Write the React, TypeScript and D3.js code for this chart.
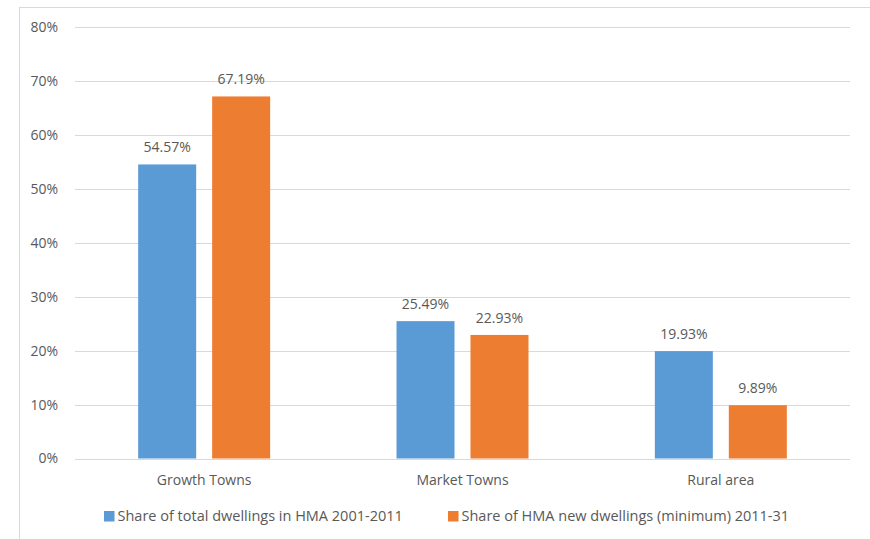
import React from 'react';
import * as d3 from 'd3';

// chart data
const categories = ['Growth Towns', 'Market Towns', 'Rural area'];
const seriesNames = [
  'Share of total dwellings in HMA 2001-2011',
  'Share of HMA new dwellings (minimum) 2011-31',
];
const totalDwellings = [54.57, 25.49, 19.93];
const newDwellings = [67.19, 22.93, 9.89];
const yTicks = [0, 10, 20, 30, 40, 50, 60, 70, 80];

const seriesColors = ['#5B9BD5', '#ED7D31'];

const App: React.FC = () => {
  const width = 870;
  const height = 539;
  const font = "'Open Sans', sans-serif";
  const textColor = '#595959';
  const gridColor = '#D9D9D9';
  const fontSize = 14;

  const plotLeft = 75;
  const plotRight = 850;
  const plotTop = 27.4;
  const plotBottom = 458.5;

  const x = d3.scaleBand<string>()
    .domain(categories)
    .range([plotLeft, plotRight]);

  const xInner = d3.scaleBand<number>()
    .domain([0, 1])
    .range([0, x.bandwidth()])
    .paddingInner(0.216)
    .paddingOuter(0.854);

  const y = d3.scaleLinear()
    .domain([0, 80])
    .range([plotBottom, plotTop]);

  const values = [totalDwellings, newDwellings];

  return (
    <svg
      width={width}
      height={height}
      style={{ position: 'absolute', left: 0, top: 0, background: '#fff' }}
      fontFamily={font}
    >
      {/* chart frame */}
      <rect x={19.5} y={7.5} width={900} height={600} fill="none" stroke={gridColor} strokeWidth={1} />

      {/* gridlines + y labels */}
      {yTicks.map(t => (
        <g key={t}>
          <line
            x1={plotLeft}
            x2={plotRight}
            y1={Math.round(y(t)) + 0.5}
            y2={Math.round(y(t)) + 0.5}
            stroke={gridColor}
            strokeWidth={1}
          />
          <text
            x={58}
            y={y(t)}
            dy="0.35em"
            textAnchor="end"
            fontSize={fontSize}
            fill={textColor}
          >
            {`${t}%`}
          </text>
        </g>
      ))}

      {/* bars */}
      {categories.map((c, ci) => (
        <g key={c} transform={`translate(${x(c)},0)`}>
          {values.map((vals, si) => {
            const v = vals[ci];
            const bx = xInner(si) as number;
            return (
              <g key={si}>
                <rect
                  x={bx}
                  y={y(v)}
                  width={xInner.bandwidth()}
                  height={plotBottom - y(v)}
                  fill={seriesColors[si]}
                />
                <text
                  x={bx + xInner.bandwidth() / 2}
                  y={y(v) - 12}
                  textAnchor="middle"
                  fontSize={fontSize}
                  fill={textColor}
                >
                  {`${v.toFixed(2)}%`}
                </text>
              </g>
            );
          })}
        </g>
      ))}

      {/* category labels */}
      {categories.map(c => (
        <text
          key={c}
          x={(x(c) as number) + x.bandwidth() / 2}
          y={480}
          dy="0.35em"
          textAnchor="middle"
          fontSize={fontSize}
          fill={textColor}
        >
          {c}
        </text>
      ))}

      {/* legend */}
      {seriesNames.map((s, i) => {
        const lx = i === 0 ? 104 : 448;
        return (
          <g key={s} transform={`translate(${lx},516)`}>
            <rect x={0} y={-5} width={10.5} height={10.5} fill={seriesColors[i]} />
            <text x={13.5} y={0} dy="0.35em" fontSize={14.5} fill={textColor}>
              {s}
            </text>
          </g>
        );
      })}
    </svg>
  );
};

export default App;
